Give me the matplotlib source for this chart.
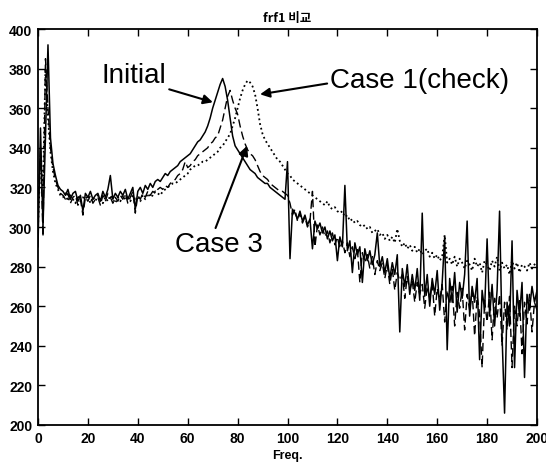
import numpy as np
import matplotlib
matplotlib.use("Agg")
import matplotlib.pyplot as plt

# ---- data (1 Hz resolution) ----
freq = list(range(0, 201))

initial = [
    290, 350, 300, 345, 392, 345, 332, 326, 321, 319,
    318, 316, 319, 314, 317, 318, 313, 316, 308, 317,
    315, 318, 314, 316, 317, 313, 318, 315, 319, 326,
    314, 317, 315, 318, 316, 319, 314, 317, 320, 309,
    318, 320, 317, 321, 319, 322, 320, 323, 324, 323,
    325, 327, 326, 328, 329, 330, 331, 333, 334, 335,
    336, 337, 339, 341, 343, 344, 346, 348, 351, 355,
    360, 364, 368, 372, 375, 371, 364, 355, 346, 341,
    339, 337, 335, 333, 331, 329, 328, 327, 325, 324,
    323, 322, 322, 320, 319, 318, 317, 316, 315, 314,
    333, 284, 309, 307, 304, 308, 303, 306, 301, 304,
    289, 303, 299, 302, 297, 300, 294, 298, 293, 296,
    283, 295, 290, 321, 288, 293, 277, 292, 286, 290,
    272, 289, 283, 288, 281, 286, 297, 280, 285, 277,
    284, 274, 282, 276, 286, 247, 279, 270, 281, 266,
    276, 268, 279, 263, 307, 265, 276, 260, 274, 266,
    278, 258, 272, 295, 238, 274, 262, 277, 257, 272,
    264, 276, 303, 255, 270, 262, 274, 233, 268, 258,
    294, 255, 271, 250, 268, 308, 245, 206, 262, 250,
    293, 229, 268, 255, 272, 224, 266, 258, 270, 262,
    268,
]

case3 = [
    310, 340, 295, 385, 360, 340, 330, 324, 320, 317,
    316, 314, 317, 312, 315, 316, 311, 314, 306, 315,
    313, 316, 312, 314, 315, 311, 316, 313, 317, 315,
    312, 315, 313, 316, 314, 317, 312, 315, 318, 307,
    316, 314, 317, 315, 318, 316, 318, 317, 319, 320,
    319, 321, 320, 322, 323, 324, 326, 327, 329, 333,
    330, 331, 333, 334, 336, 337, 338, 339, 340, 342,
    343, 345, 346, 350, 354, 360, 366, 369, 364, 360,
    357, 351, 346, 342, 339, 337, 336, 334, 331, 328,
    326, 325, 324, 322, 321, 320, 319, 318, 318, 317,
    316, 312, 306, 309, 303, 307, 302, 305, 300, 303,
    318, 290, 301, 296, 300, 295, 298, 292, 297, 291,
    295, 289, 293, 287, 292, 285, 290, 284, 289, 272,
    287, 282, 286, 279, 285, 276, 283, 278, 282, 274,
    281, 271, 279, 268, 277, 273, 276, 264, 275, 268,
    273, 262, 272, 266, 271, 259, 270, 264, 272, 255,
    269, 263, 271, 252, 268, 261, 270, 250, 267, 259,
    269, 248, 266, 258, 268, 245, 265, 256, 229, 263,
    252, 267, 243, 264, 254, 266, 240, 262, 248, 265,
    229, 260, 250, 264, 236, 262, 251, 266, 247, 262,
    258,
]

case1 = [
    300, 335, 320, 380, 355, 338, 328, 322, 319, 316,
    315, 317, 313, 316, 314, 312, 316, 313, 315, 314,
    316, 312, 315, 313, 316, 314, 312, 315, 313, 316,
    314, 312, 315, 313, 316, 314, 315, 313, 316, 314,
    315, 313, 316, 314, 317, 315, 316, 318, 317, 316,
    318, 319, 320, 321, 322, 322, 323, 324, 325, 326,
    327, 329, 330, 331, 331, 332, 333, 333, 334, 335,
    336, 337, 338, 340, 341, 343, 345, 347, 351, 355,
    360, 365, 369, 372, 374, 373, 371, 367, 360, 352,
    347, 344, 342, 340, 338, 336, 334, 333, 331, 329,
    327, 326, 324, 323, 322, 321, 320, 319, 318, 317,
    316, 315, 314, 313, 312, 311, 313, 310, 309, 310,
    308, 307, 308, 305, 306, 303, 304, 302, 303, 301,
    300, 301, 299, 300, 297, 298, 299, 296, 297, 294,
    296, 293, 295, 292, 299, 293, 290, 292, 289, 291,
    288, 290, 287, 289, 286, 288, 289, 285, 287, 284,
    286, 283, 285, 296, 282, 284, 281, 285, 280, 284,
    282, 279, 283, 281, 278, 284, 280, 282, 277, 283,
    281, 278, 283, 280, 285, 278, 282, 279, 281, 276,
    283, 279, 282, 277, 281, 280, 278, 282, 279, 281,
    283,
]

x_ticks = list(range(0, 201, 20))
y_ticks = list(range(200, 401, 20))

# ---- figure ----
fig = plt.figure(figsize=(5.46, 4.64), dpi=100)
ax = fig.add_axes([38 / 546, 1 - 426 / 464, 499 / 546, 396 / 464])

ax.plot(freq, case1, color="black", linestyle=":", linewidth=1.3)
ax.plot(freq, case3, color="black", linestyle="--", linewidth=1.0, dashes=(6, 3))
ax.plot(freq, initial, color="black", linestyle="-", linewidth=1.1)

ax.set_xlim(0, 200)
ax.set_ylim(200, 400)
ax.set_xticks(x_ticks)
ax.set_yticks(y_ticks)
ax.tick_params(direction="in", length=5, width=1, top=True, right=True,
               labelsize=10, pad=4)
for lab in ax.get_xticklabels() + ax.get_yticklabels():
    lab.set_fontweight("bold")
    lab.set_family("Liberation Sans")
for s in ax.spines.values():
    s.set_linewidth(1.3)

ax.set_title("frf1 비교", fontsize=9, fontweight="bold",
             family=["Noto Sans CJK KR", "DejaVu Sans"], pad=6)
ax.set_xlabel("Freq.", fontsize=9, fontweight="bold",
              family="Liberation Sans", labelpad=3)

arrow = dict(arrowstyle="-|>", color="black", lw=1.5,
             mutation_scale=14, shrinkA=0, shrinkB=0)
ax.annotate("Initial", xy=(70.1, 363), xytext=(38.5, 377),
            fontsize=20, family="Liberation Sans", ha="center", va="center",
            arrowprops=dict(arrow, relpos=(0.95, 0.0)))
ax.annotate("Case 1(check)", xy=(89, 367), xytext=(117, 374),
            fontsize=20, family="Liberation Sans", ha="left", va="center",
            arrowprops=dict(arrow, relpos=(0.0, 0.4)))
ax.annotate("Case 3", xy=(83.8, 341), xytext=(72.5, 291.5),
            fontsize=20, family="Liberation Sans", ha="center", va="center",
            arrowprops=dict(arrow, relpos=(0.45, 1.0)))

fig.savefig("out.png", dpi=100)
